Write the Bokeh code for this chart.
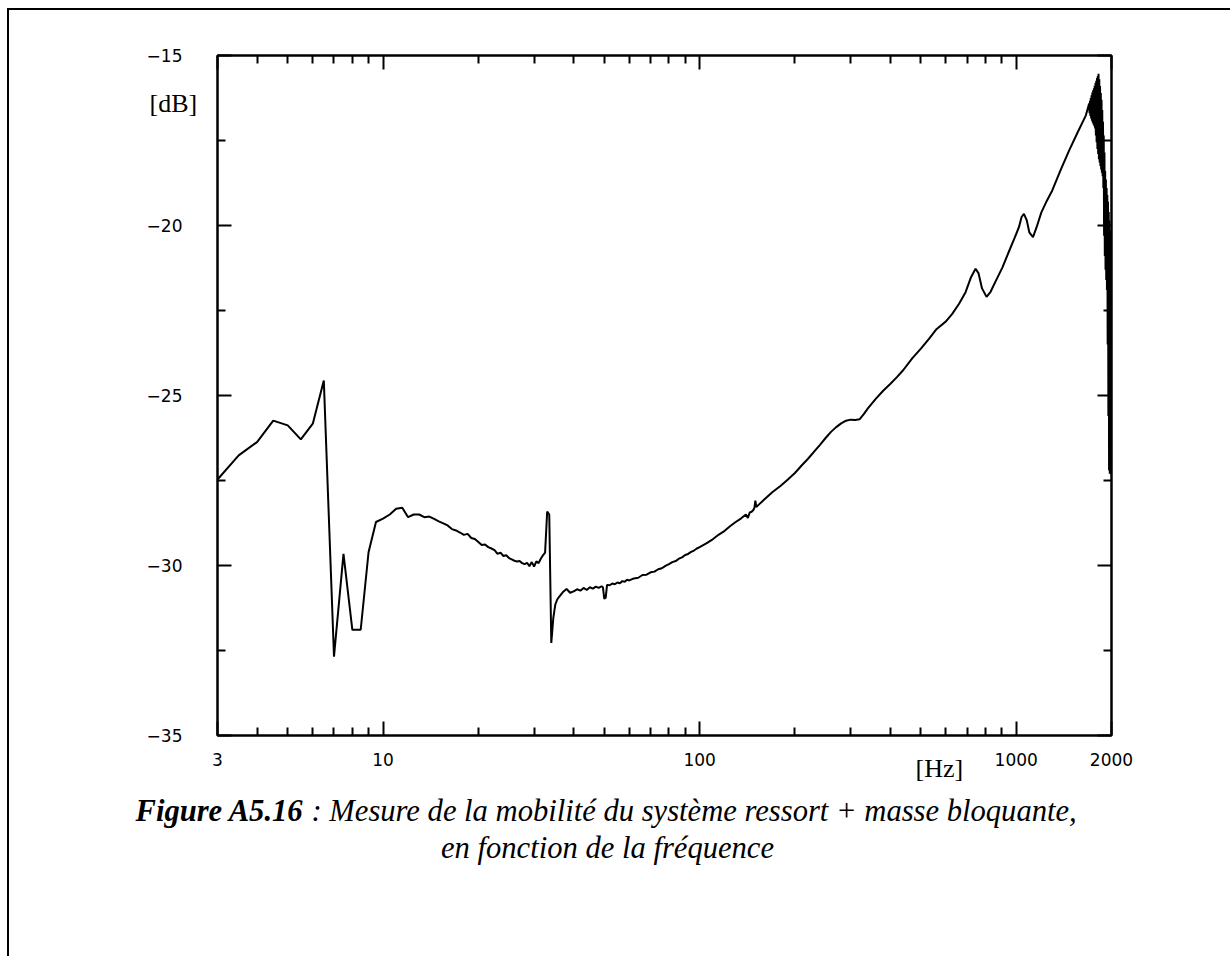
from bokeh.plotting import figure
from bokeh.models import (Range1d, FixedTicker, LogAxis, LinearAxis, Label,
                          PrintfTickFormatter)
from bokeh.embed import file_html
from bokeh.resources import INLINE

# Mobility spectrum of the spring + blocking-mass system (frequency in Hz, level in dB)
freq_low = [3.0, 3.5, 4.0, 4.5, 5.0, 5.5, 6.0, 6.5, 7.0, 7.5, 8.0, 8.5, 9.0, 9.5,
            10.0, 10.5, 11.0, 11.5, 12.0, 12.5, 13.0, 13.5, 14.0, 14.5, 15.0, 15.5,
            16.0, 16.5, 17.0, 17.5, 18.0, 18.5, 19.0, 19.5, 20.0, 20.5, 21.0, 21.5,
            22.0, 22.5, 23.0, 23.5, 24.0, 24.5, 25.0, 25.5, 26.0, 26.5, 27.0, 27.5,
            28.0, 28.5, 29.0, 29.5, 30.0, 30.5, 31.0, 31.5, 32.0, 32.5, 33.0, 33.5,
            34.0, 34.5, 35.0, 35.5]
db_low = [-27.47, -26.76, -26.37, -25.74, -25.88, -26.29, -25.83, -24.56, -32.68, -29.66,
          -31.89, -31.89, -29.61, -28.72, -28.62, -28.50, -28.33, -28.30, -28.58, -28.50,
          -28.50, -28.58, -28.56, -28.63, -28.70, -28.76, -28.82, -28.93, -28.97, -29.03,
          -29.10, -29.07, -29.19, -29.22, -29.31, -29.40, -29.38, -29.46, -29.50, -29.55,
          -29.66, -29.62, -29.72, -29.70, -29.78, -29.82, -29.86, -29.88, -29.87, -29.93,
          -29.96, -29.92, -30.02, -29.90, -30.03, -29.88, -29.93, -29.80, -29.70, -29.62,
          -28.41, -28.50, -32.28, -31.55, -31.15, -31.00]

freq_mid = [36, 37, 38, 39, 40, 41, 42, 43, 44, 45, 46, 47, 48, 49, 49.5, 50, 50.5, 51,
            52, 53, 54, 55, 56, 57, 58, 59, 60, 62, 64, 66, 68, 70, 72, 74, 76, 78, 80,
            82, 84, 86, 88, 90, 92, 94, 96, 98, 100, 105, 110, 115, 120, 125, 130, 135,
            140, 142, 144, 146, 148, 149, 150, 151, 155, 160]
db_mid = [-30.92, -30.78, -30.69, -30.80, -30.76, -30.70, -30.74, -30.66, -30.72, -30.64,
          -30.68, -30.62, -30.66, -30.61, -30.64, -30.98, -30.95, -30.57, -30.58, -30.53,
          -30.55, -30.50, -30.52, -30.46, -30.48, -30.42, -30.44, -30.38, -30.36, -30.28,
          -30.27, -30.20, -30.18, -30.11, -30.08, -30.01, -29.96, -29.90, -29.87, -29.80,
          -29.76, -29.69, -29.66, -29.60, -29.56, -29.50, -29.46, -29.35, -29.23, -29.09,
          -28.98, -28.84, -28.72, -28.62, -28.50, -28.60, -28.44, -28.42, -28.36, -28.30,
          -28.09, -28.28, -28.18, -28.06]

freq_high = [170, 180, 190, 200, 210, 220, 230, 240, 250, 260, 270, 280, 290, 300, 310,
             320, 330, 340, 360, 380, 400, 420, 440, 470, 500, 531, 560, 600, 628, 660,
             692, 720, 744, 760, 780, 806, 830, 860, 905, 950, 990, 1020, 1040, 1058,
             1080, 1100, 1130, 1160, 1200, 1250, 1300, 1380, 1470, 1560, 1660]
db_high = [-27.84, -27.66, -27.47, -27.28, -27.06, -26.86, -26.65, -26.45, -26.25, -26.07,
           -25.93, -25.82, -25.74, -25.71, -25.72, -25.70, -25.55, -25.38, -25.10, -24.86,
           -24.66, -24.46, -24.25, -23.90, -23.62, -23.33, -23.05, -22.82, -22.60, -22.30,
           -21.96, -21.52, -21.27, -21.40, -21.85, -22.10, -21.95, -21.65, -21.23, -20.75,
           -20.35, -20.05, -19.75, -19.66, -19.85, -20.20, -20.34, -20.05, -19.62, -19.27,
           -18.97, -18.38, -17.79, -17.28, -16.76]

# densely sampled, strongly fluctuating band around the main resonance
freq_top = [1700, 1705, 1710, 1715, 1720, 1725, 1730, 1735, 1740, 1745, 1750, 1755, 1760,
            1765, 1770, 1775, 1780, 1785, 1790, 1795, 1800, 1805, 1810, 1815, 1820, 1825,
            1830, 1835, 1840, 1845, 1850, 1855, 1860, 1865, 1870, 1875, 1880, 1885, 1890,
            1895, 1900, 1905, 1910, 1915, 1920, 1925, 1930, 1935, 1940, 1945, 1950, 1955,
            1960, 1965, 1970, 1975, 1980, 1985, 1990, 1995, 2000]
db_top = [-16.41, -16.70, -16.33, -16.78, -16.25, -16.85, -16.17, -16.92, -16.09, -16.98,
          -16.02, -17.03, -15.96, -17.08, -15.89, -17.15, -15.81, -17.35, -15.74, -17.55,
          -15.66, -17.75, -15.60, -17.90, -15.54, -18.05, -15.70, -18.15, -15.90, -18.25,
          -16.10, -18.35, -16.30, -18.45, -16.60, -18.55, -16.95, -18.90, -17.35, -20.30,
          -17.85, -20.90, -18.40, -21.30, -18.65, -21.60, -18.90, -21.90, -19.10, -23.50,
          -19.30, -25.60, -19.60, -27.20, -19.85, -27.30, -20.15, -27.30, -20.40, -27.30,
          -27.30]

x_major = [3, 10, 100, 1000, 2000]
x_minor = [4, 5, 6, 7, 8, 9, 20, 30, 40, 50, 60, 70, 80, 90,
           200, 300, 400, 500, 600, 700, 800, 900]
y_major = [-35, -30, -25, -20, -15]
y_minor = [-32.5, -27.5, -22.5, -17.5]
y_labels = {-35: "\u221235", -30: "\u221230", -25: "\u221225", -20: "\u221220", -15: "\u221215"}

freq = freq_low + freq_mid + freq_high + freq_top
db = db_low + db_mid + db_high + db_top

# page layout (px): outer rule offset, plot frame edges
OX, OY = 9, 10
FL, FR, FT, FB = 217, 1111, 55, 735
W, H = 1232 - OX, 958 - OY

p = figure(width=W, height=H, x_axis_type="log",
           x_range=Range1d(3, 2000), y_range=Range1d(-35, -15),
           output_backend="svg", toolbar_location=None,
           min_border_left=FL - OX, min_border_right=W - (FR - OX),
           min_border_top=FT - OY, min_border_bottom=H - (FB - OY),
           styles={"border-top": "2px solid black", "border-left": "2px solid black",
                   "margin-left": "7px", "margin-top": "8px"})
p.background_fill_color = "white"
p.border_fill_color = "white"
p.outline_line_color = "black"
p.outline_line_width = 2
p.xgrid.visible = False
p.ygrid.visible = False

p.line(freq, db, line_color="black", line_width=2)

tick_font = "DejaVu Sans"


def style_axis(ax, show_labels, standoff):
    ax.axis_line_width = 2
    ax.axis_line_color = "black"
    ax.major_tick_line_width = 2
    ax.minor_tick_line_width = 2
    ax.major_tick_in = 14
    ax.major_tick_out = 0
    ax.minor_tick_in = 8
    ax.minor_tick_out = 0
    ax.major_label_standoff = standoff
    ax.major_label_text_font = tick_font
    ax.major_label_text_font_size = "17px"
    ax.major_label_text_color = "black" if show_labels else None


xa = p.xaxis[0]
xa.ticker = FixedTicker(ticks=x_major, minor_ticks=x_minor)
xa.formatter = PrintfTickFormatter(format="%d")
style_axis(xa, True, 17)

ya = p.yaxis[0]
ya.ticker = FixedTicker(ticks=y_major, minor_ticks=y_minor)
ya.major_label_overrides = y_labels
style_axis(ya, True, 35)

top = LogAxis(ticker=FixedTicker(ticks=x_major, minor_ticks=x_minor))
style_axis(top, False, 2)
p.add_layout(top, "above")

right = LinearAxis(ticker=FixedTicker(ticks=y_major, minor_ticks=y_minor))
style_axis(right, False, 2)
p.add_layout(right, "right")


def page_label(px, py, text, size, style="normal", align="left"):
    # canvas units: pixels from the top-left corner of the figure
    return Label(x=px - OX, y=py - OY, x_units="canvas", y_units="canvas", text=text,
                 text_font="Liberation Serif", text_font_size=f"{size}px",
                 text_font_style=style, text_baseline="middle", text_align=align,
                 text_color="black")


# unit labels
p.add_layout(page_label(147, 101, "[dB]", 26), "left")
p.add_layout(page_label(913, 766, "[Hz]", 26), "below")

# caption, two centred lines
cap_size = 30.6
cap_left, cap_y1, cap_y2, cap_center = 133, 808, 845, 605
bold_em = 5.501 + 0.25  # "Figure A5.16" plus the following space
p.add_layout(page_label(cap_left, cap_y1, "Figure A5.16", cap_size, "bold italic"), "below")
p.add_layout(page_label(cap_left + bold_em * cap_size, cap_y1,
                        ": Mesure de la mobilité du système ressort + masse bloquante,",
                        cap_size, "italic"), "below")
p.add_layout(page_label(cap_center, cap_y2, "en fonction de la fréquence", cap_size,
                        "italic", "center"), "below")

open("out.html", "w").write(file_html(p, INLINE))
